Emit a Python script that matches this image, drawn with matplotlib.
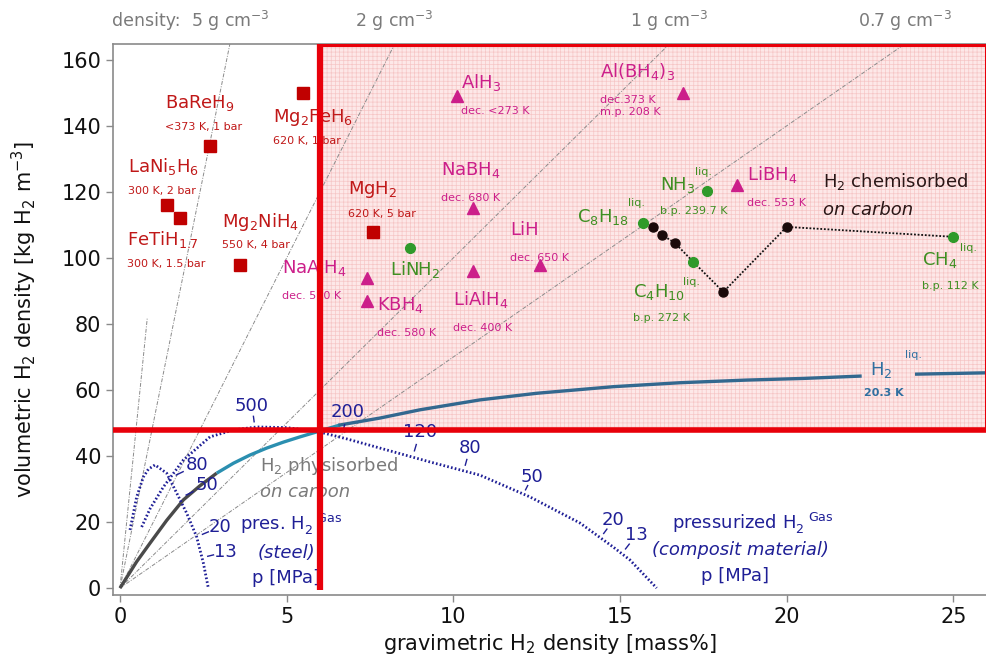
import numpy as np
import matplotlib.pyplot as plt
import matplotlib.transforms as mtransforms
from matplotlib.patches import Rectangle

plt.rcParams['font.family'] = ['DejaVu Sans']
plt.rcParams['mathtext.fontset'] = 'dejavusans'
plt.rcParams['hatch.linewidth'] = 0.5

# ---- data ----
# metal hydrides (red squares)
metal_names = ['Mg$_2$FeH$_6$', 'BaReH$_9$', 'LaNi$_5$H$_6$', 'FeTiH$_{1.7}$', 'Mg$_2$NiH$_4$', 'MgH$_2$']
metal_cond = ['620 K, 1 bar', '<373 K, 1 bar', '300 K, 2 bar', '300 K, 1.5 bar', '550 K, 4 bar', '620 K, 5 bar']
metal_wt = [5.5, 2.7, 1.4, 1.8, 3.6, 7.6]
metal_vol = [150, 134, 116, 112, 98, 108]

# complex hydrides (magenta triangles)
complex_names = ['AlH$_3$', 'Al(BH$_4$)$_3$', 'NaBH$_4$', 'LiH', 'LiAlH$_4$', 'NaAlH$_4$', 'KBH$_4$', 'LiBH$_4$']
complex_cond = ['dec. <273 K', 'dec.373 K\nm.p. 208 K', 'dec. 680 K', 'dec. 650 K', 'dec. 400 K',
                'dec. 520 K', 'dec. 580 K', 'dec. 553 K']
complex_wt = [10.1, 16.9, 10.6, 12.6, 10.6, 7.4, 7.4, 18.5]
complex_vol = [149, 150, 115, 98, 96, 94, 87, 122]

# liquids / amide (green circles)
liquid_names = ['LiNH$_2$', 'C$_8$H$_{18}$', 'NH$_3$', 'C$_4$H$_{10}$', 'CH$_4$']
liquid_cond = ['', '', 'b.p. 239.7 K', 'b.p. 272 K', 'b.p. 112 K']
liquid_wt = [8.7, 15.7, 17.6, 17.2, 25.0]
liquid_vol = [103, 110.6, 120.3, 98.8, 106.4]

# H2 chemisorbed on carbon (dotted black path)
chem_wt = [15.7, 16.0, 16.26, 16.65, 17.2, 18.1, 20.0, 25.0]
chem_vol = [110.6, 109.4, 107.0, 104.5, 98.8, 89.7, 109.4, 106.4]
chem_dot = [False, True, True, True, False, True, True, False]

# liquid H2 / physisorbed curve
liq_wt = [0, 0.5, 0.9, 1.4, 1.9, 2.4, 2.9, 3.4, 3.9, 4.4, 4.9, 5.4, 5.9, 6.6, 7.8, 9.0,
          10.8, 12.5, 14.8, 16.8, 18.8, 20.5, 22.2]
liq_vol = [0, 8, 13.6, 20.5, 26.7, 31, 34.8, 37.8, 40.3, 42.4, 44.2, 45.8, 47.3, 49.4, 51.5, 54,
           57, 59, 61, 62.2, 63, 63.5, 64.2]
liq2_wt = [23.9, 26.0]
liq2_vol = [64.8, 65.2]

# pressurized H2, composite vessel
comp_wt = [0.65, 0.9, 1.3, 1.9, 2.7, 3.4, 4.1, 5.0, 5.9, 6.8, 7.8, 9.3, 10.8, 12.3, 13.8, 14.8, 15.3, 16.1]
comp_vol = [18.5, 24, 30.6, 38.8, 45.8, 47.9, 48.8, 48.6, 47.5, 45.2, 42.4, 38.2, 34.2, 27.6, 19.7, 12.4, 8.5, 0]
comp_p = ['500', '200', '120', '80', '50', '20', '13']

# pressurized H2, steel vessel
steel_wt = [0.3, 0.5, 0.7, 0.85, 1.05, 1.4, 1.7, 2.0, 2.3, 2.5, 2.65]
steel_vol = [17.6, 27.6, 33.6, 36.0, 37.3, 34.8, 28.8, 22.7, 15.5, 7.6, 0]
steel_p = ['80', '50', '20', '13']

# density iso-lines, g cm^-3, and how high each is drawn
densities = [10, 5, 2, 1, 0.7]
density_top = [82, 165, 165, 165, 165]
density_labels = ['', '5 g cm$^{-3}$', '2 g cm$^{-3}$', '1 g cm$^{-3}$', '0.7 g cm$^{-3}$']

# targets (red cross)
target_wt = 6.0
target_vol = 48.0

# ---- layout (label positions) ----
metal_lab = [(4.6, 142.5), (1.35, 147), (0.24, 127.6), (0.2, 105.5), (3.06, 111), (6.84, 120.6)]
complex_lab = [(10.23, 153), (14.4, 156.4), (9.63, 126.7), (11.7, 108.5), (10.0, 87.3),
               (4.86, 97), (7.7, 85.8), (18.8, 125.2)]
liquid_lab = [(8.1, 96.4), (13.7, 112.4), (16.2, 122), (15.4, 89.7), (24.06, 99.4)]
liquid_liq = [None, (15.25, 116.5), (17.25, 126), (16.9, 92.6), (25.2, 103)]
comp_lab = [(3.96, 55.3), (6.84, 53.3), (9.0, 47.3), (10.5, 42.4), (12.36, 33.6), (14.8, 20.5), (15.5, 16.2)]
steel_lab = [(2.31, 37.3), (2.6, 31.2), (3.0, 18.5), (3.15, 10.9)]

RED = '#c01818'
MAG = '#cc1f8a'
GRN = '#3f8f22'
NAVY = '#1f1f96'
GRAY = '#7a7a7a'

fig = plt.figure(figsize=(9.87, 6.65), dpi=100)
ax = fig.add_axes([113 / 987, 1 - 595 / 665, 1 - 113 / 987, (595 - 44) / 665])
ax.set_xlim(-0.21, 26.01)
ax.set_ylim(-2.1, 164.8)
y_top = 164.8

# target box
ax.add_patch(Rectangle((target_wt, target_vol), 26.0 - target_wt, y_top - target_vol,
                       facecolor='#fde8e8', edgecolor='none', zorder=0.2))
ax.add_patch(Rectangle((target_wt, target_vol), 26.0 - target_wt, y_top - target_vol,
                       facecolor='none', edgecolor='#f6c6c6', lw=0, hatch='++++', zorder=0.3))
ax.add_patch(Rectangle((target_wt, target_vol), 25.97 - target_wt, y_top - target_vol - 0.3,
                       facecolor='none', edgecolor='#e8000a', lw=2.2, zorder=6))

# density lines
for rho, top in zip(densities, density_top):
    xx = np.linspace(0, min(26, top / (10 * rho)), 200)
    ax.plot(xx, 10 * rho * xx, color='#8a8a8a', lw=0.7, ls=(0, (4, 1.5, 1, 1.5)), zorder=1)

# liquid H2 curve, three colour segments
lw_ = np.array(liq_wt)
lv_ = np.array(liq_vol)
m1 = lw_ <= 2.9
m2 = (lw_ >= 2.9) & (lw_ <= 6.6)
m3 = lw_ >= 6.6
ax.plot(lw_[m1], lv_[m1], color='#4a4a4a', lw=2.4, zorder=2, solid_capstyle='butt')
ax.plot(lw_[m2], lv_[m2], color='#2b8fb0', lw=2.4, zorder=2, solid_capstyle='butt')
ax.plot(lw_[m3], lv_[m3], color='#33688f', lw=2.4, zorder=2)
ax.plot(liq2_wt, liq2_vol, color='#33688f', lw=2.4, zorder=2)

# pressure vessels
ax.plot(comp_wt, comp_vol, color=NAVY, lw=2.0, ls=(0, (0.6, 0.8)), zorder=2)
ax.plot(steel_wt, steel_vol, color=NAVY, lw=2.0, ls=(0, (0.6, 0.8)), zorder=2)


def tick_labels(cx, cy, labels, positions):
    # short dash from the curve toward each pressure label
    fx = np.interp(np.linspace(0, len(cx) - 1, 400), np.arange(len(cx)), cx)
    fy = np.interp(np.linspace(0, len(cy) - 1, 400), np.arange(len(cy)), cy)
    for lab, (lx, ly) in zip(labels, positions):
        d = (fx - lx) ** 2 * 100 + (fy - ly) ** 2
        i = np.argmin(d)
        px, py = fx[i], fy[i]
        ax.plot([px + 0.25 * (lx - px), px + 0.5 * (lx - px)],
                [py + 0.25 * (ly - py), py + 0.5 * (ly - py)], color=NAVY, lw=1, zorder=3)
        ax.text(lx, ly, lab, color=NAVY, fontsize=13, ha='center', va='center', zorder=5)


tick_labels(comp_wt, comp_vol, comp_p, comp_lab)
tick_labels(steel_wt, steel_vol, steel_p, steel_lab)

# chemisorbed path
ax.plot(chem_wt, chem_vol, color='#111111', lw=1.3, ls=(0, (1, 1)), zorder=3)
cw = np.array(chem_wt)[np.array(chem_dot)]
cv = np.array(chem_vol)[np.array(chem_dot)]
ax.plot(cw, cv, 'o', color='#1a0a0a', ms=6.5, zorder=4)

# markers
ax.plot(metal_wt, metal_vol, 's', color='#c00000', ms=8, zorder=4)
ax.plot(complex_wt, complex_vol, '^', color=MAG, ms=8, zorder=4)
ax.plot(liquid_wt, liquid_vol, 'o', color='#2f9a2a', ms=7, zorder=4)

# labels
for name, cond, (lx, ly) in zip(metal_names, metal_cond, metal_lab):
    ax.text(lx, ly, name, color=RED, fontsize=13, ha='left', va='center', zorder=5)
    ax.text(lx, ly - 7.2, cond, color=RED, fontsize=8, ha='left', va='center', zorder=5)
for name, cond, (lx, ly) in zip(complex_names, complex_cond, complex_lab):
    ax.text(lx, ly, name, color=MAG, fontsize=13, ha='left', va='center', zorder=5)
    ax.text(lx, ly - 7.0, cond, color=MAG, fontsize=8, ha='left', va='top', linespacing=1.25, zorder=5)
for name, cond, (lx, ly), lq in zip(liquid_names, liquid_cond, liquid_lab, liquid_liq):
    ax.text(lx, ly, name, color=GRN, fontsize=13, ha='left', va='center', zorder=5)
    if cond:
        ax.text(lx, ly - 7.8, cond, color=GRN, fontsize=8, ha='left', va='center', zorder=5)
    if lq:
        ax.text(lq[0], lq[1], 'liq.', color=GRN, fontsize=8, ha='left', va='center', zorder=5)

ax.text(21.1, 123, 'H$_2$ chemisorbed', color='#2a1616', fontsize=13, va='center', zorder=5)
ax.text(21.1, 114.5, 'on carbon', color='#2a1616', fontsize=13, style='italic', va='center', zorder=5)

ax.text(4.2, 37, 'H$_2$ physisorbed', color=GRAY, fontsize=13, va='center', zorder=5)
ax.text(4.2, 29.1, 'on carbon', color=GRAY, fontsize=13, style='italic', va='center', zorder=5)

ax.text(3.6, 19.4, 'pres. H$_2^{\\ \\ \\ \\mathrm{Gas}}$', color=NAVY, fontsize=13, va='center', zorder=5)
ax.text(4.14, 10.6, '(steel)', color=NAVY, fontsize=13, style='italic', va='center', zorder=5)
ax.text(3.96, 3.0, 'p [MPa]', color=NAVY, fontsize=13, va='center', zorder=5)

ax.text(16.56, 19.7, 'pressurized H$_2^{\\ \\ \\ \\mathrm{Gas}}$', color=NAVY, fontsize=13, va='center', zorder=5)
ax.text(18.6, 11.5, '(composit material)', color=NAVY, fontsize=13, style='italic', ha='center',
        va='center', zorder=5)
ax.text(18.45, 3.6, 'p [MPa]', color=NAVY, fontsize=13, ha='center', va='center', zorder=5)

ax.text(22.5, 66, 'H$_2$', color='#2f6fa0', fontsize=13, ha='left', va='center', zorder=5)
ax.text(23.55, 70.6, 'liq.', color='#2f6fa0', fontsize=8, ha='left', va='center', zorder=5)
ax.text(22.9, 59, '20.3 K', color='#2f6fa0', fontsize=8, fontweight='bold', ha='center', va='center', zorder=5)

# target cross
ax.plot([-0.21, 26.01], [target_vol, target_vol], color='#e8000a', lw=4, zorder=6, solid_capstyle='butt')
ax.plot([target_wt, target_wt], [-0.5, y_top], color='#e8000a', lw=4.5, zorder=6, solid_capstyle='butt')

# density labels on top
tr = mtransforms.blended_transform_factory(ax.transData, fig.transFigure)
ax.text(0.8, 0.968, 'density:', color=GRAY, fontsize=12.5, ha='center', va='center', transform=tr)
for rho, lab in zip(densities, density_labels):
    if lab:
        ax.text(y_top / (10 * rho), 0.968, lab, color=GRAY, fontsize=12.5, ha='center', va='center',
                transform=tr)

# axes styling
for s in ['left', 'bottom', 'top']:
    ax.spines[s].set_color('#8a8a8a')
    ax.spines[s].set_linewidth(1.2)
ax.spines['right'].set_visible(False)
ax.set_xticks([0, 5, 10, 15, 20, 25])
ax.set_yticks(np.arange(0, 161, 20))
ax.tick_params(direction='out', length=5, width=1, color='#8a8a8a', labelsize=15, labelcolor='#111111')
ax.set_xlabel('gravimetric H$_2$ density [mass%]', fontsize=15, color='#111111', labelpad=4)
ax.set_ylabel('volumetric H$_2$ density [kg H$_2$ m$^{-3}$]', fontsize=15, color='#111111', labelpad=16)

fig.savefig('out.png', dpi=100)
